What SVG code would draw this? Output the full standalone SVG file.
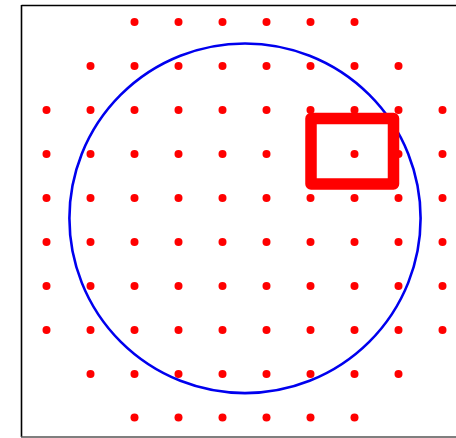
<svg xmlns="http://www.w3.org/2000/svg" width="456" height="438" viewBox="0 0 456 438">
<style>
.d{fill:#ff0000}
.frame{stroke:#000;stroke-width:1.6;fill:none}
</style>
<rect width="456" height="438" fill="#fff"/>
<g id="frame">
<line class="frame" x1="21.5" y1="5.5" x2="456" y2="5.5"/>
<line class="frame" x1="21.5" y1="5" x2="21.5" y2="437"/>
<line x1="21" y1="437" x2="456" y2="437" stroke="#555" stroke-width="1.6"/>
</g>
<g id="dots">
<g id="row1"><circle class="d" cx="134.5" cy="22" r="4"/><circle class="d" cx="178.5" cy="22" r="4"/><circle class="d" cx="222.5" cy="22" r="4"/><circle class="d" cx="266.5" cy="22" r="4"/><circle class="d" cx="310.5" cy="22" r="4"/><circle class="d" cx="354.5" cy="22" r="4"/></g>
<g id="row2"><circle class="d" cx="90.5" cy="66" r="4"/><circle class="d" cx="134.5" cy="66" r="4"/><circle class="d" cx="178.5" cy="66" r="4"/><circle class="d" cx="222.5" cy="66" r="4"/><circle class="d" cx="266.5" cy="66" r="4"/><circle class="d" cx="310.5" cy="66" r="4"/><circle class="d" cx="354.5" cy="66" r="4"/><circle class="d" cx="398.5" cy="66" r="4"/></g>
<g id="row3"><circle class="d" cx="46.5" cy="110" r="4"/><circle class="d" cx="90.5" cy="110" r="4"/><circle class="d" cx="134.5" cy="110" r="4"/><circle class="d" cx="178.5" cy="110" r="4"/><circle class="d" cx="222.5" cy="110" r="4"/><circle class="d" cx="266.5" cy="110" r="4"/><circle class="d" cx="310.5" cy="110" r="4"/><circle class="d" cx="354.5" cy="110" r="4"/><circle class="d" cx="398.5" cy="110" r="4"/><circle class="d" cx="442.5" cy="110" r="4"/></g>
<g id="row4"><circle class="d" cx="46.5" cy="154" r="4"/><circle class="d" cx="90.5" cy="154" r="4"/><circle class="d" cx="134.5" cy="154" r="4"/><circle class="d" cx="178.5" cy="154" r="4"/><circle class="d" cx="222.5" cy="154" r="4"/><circle class="d" cx="266.5" cy="154" r="4"/><circle class="d" cx="310.5" cy="154" r="4"/><circle class="d" cx="354.5" cy="154" r="4"/><circle class="d" cx="398.5" cy="154" r="4"/><circle class="d" cx="442.5" cy="154" r="4"/></g>
<g id="row5"><circle class="d" cx="46.5" cy="198" r="4"/><circle class="d" cx="90.5" cy="198" r="4"/><circle class="d" cx="134.5" cy="198" r="4"/><circle class="d" cx="178.5" cy="198" r="4"/><circle class="d" cx="222.5" cy="198" r="4"/><circle class="d" cx="266.5" cy="198" r="4"/><circle class="d" cx="310.5" cy="198" r="4"/><circle class="d" cx="354.5" cy="198" r="4"/><circle class="d" cx="398.5" cy="198" r="4"/><circle class="d" cx="442.5" cy="198" r="4"/></g>
<g id="row6"><circle class="d" cx="46.5" cy="242" r="4"/><circle class="d" cx="90.5" cy="242" r="4"/><circle class="d" cx="134.5" cy="242" r="4"/><circle class="d" cx="178.5" cy="242" r="4"/><circle class="d" cx="222.5" cy="242" r="4"/><circle class="d" cx="266.5" cy="242" r="4"/><circle class="d" cx="310.5" cy="242" r="4"/><circle class="d" cx="354.5" cy="242" r="4"/><circle class="d" cx="398.5" cy="242" r="4"/><circle class="d" cx="442.5" cy="242" r="4"/></g>
<g id="row7"><circle class="d" cx="46.5" cy="286" r="4"/><circle class="d" cx="90.5" cy="286" r="4"/><circle class="d" cx="134.5" cy="286" r="4"/><circle class="d" cx="178.5" cy="286" r="4"/><circle class="d" cx="222.5" cy="286" r="4"/><circle class="d" cx="266.5" cy="286" r="4"/><circle class="d" cx="310.5" cy="286" r="4"/><circle class="d" cx="354.5" cy="286" r="4"/><circle class="d" cx="398.5" cy="286" r="4"/><circle class="d" cx="442.5" cy="286" r="4"/></g>
<g id="row8"><circle class="d" cx="46.5" cy="330" r="4"/><circle class="d" cx="90.5" cy="330" r="4"/><circle class="d" cx="134.5" cy="330" r="4"/><circle class="d" cx="178.5" cy="330" r="4"/><circle class="d" cx="222.5" cy="330" r="4"/><circle class="d" cx="266.5" cy="330" r="4"/><circle class="d" cx="310.5" cy="330" r="4"/><circle class="d" cx="354.5" cy="330" r="4"/><circle class="d" cx="398.5" cy="330" r="4"/><circle class="d" cx="442.5" cy="330" r="4"/></g>
<g id="row9"><circle class="d" cx="90.5" cy="374" r="4"/><circle class="d" cx="134.5" cy="374" r="4"/><circle class="d" cx="178.5" cy="374" r="4"/><circle class="d" cx="222.5" cy="374" r="4"/><circle class="d" cx="266.5" cy="374" r="4"/><circle class="d" cx="310.5" cy="374" r="4"/><circle class="d" cx="354.5" cy="374" r="4"/><circle class="d" cx="398.5" cy="374" r="4"/></g>
<g id="row10"><circle class="d" cx="134.5" cy="417.5" r="4"/><circle class="d" cx="178.5" cy="417.5" r="4"/><circle class="d" cx="222.5" cy="417.5" r="4"/><circle class="d" cx="266.5" cy="417.5" r="4"/><circle class="d" cx="310.5" cy="417.5" r="4"/><circle class="d" cx="354.5" cy="417.5" r="4"/></g>
</g>
<g id="circle"><ellipse cx="245" cy="218.3" rx="175.6" ry="174.8" fill="none" stroke="#0000ee" stroke-width="2.6"/></g>
<g id="selection"><rect x="311" y="118.5" width="82.5" height="65.5" fill="none" stroke="#ff0000" stroke-width="11.5" stroke-linejoin="round"/></g>
</svg>
